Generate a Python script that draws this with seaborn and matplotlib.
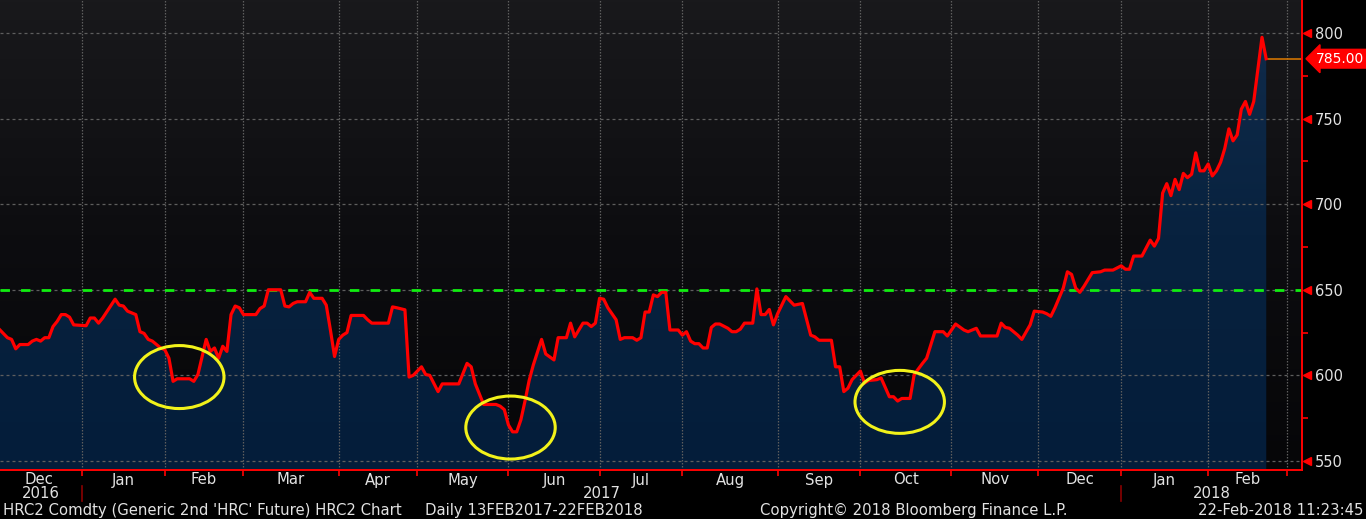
import numpy as np
import pandas as pd
import matplotlib
matplotlib.use("Agg")
import matplotlib.pyplot as plt
import matplotlib.transforms as mtrans
from matplotlib.patches import Ellipse
from matplotlib.lines import Line2D
from matplotlib.colors import LinearSegmentedColormap
import seaborn as sns

# ---------------- data ----------------
dates = [
    "2016-12-02", "2016-12-06", "2016-12-07", "2016-12-08", "2016-12-09", "2016-12-13",
    "2016-12-14", "2016-12-15", "2016-12-16", "2016-12-19", "2016-12-20", "2016-12-21",
    "2016-12-22", "2016-12-23", "2016-12-27", "2016-12-28", "2016-12-29",
    "2017-01-04", "2017-01-05", "2017-01-06", "2017-01-09", "2017-01-10", "2017-01-13",
    "2017-01-17", "2017-01-18", "2017-01-19", "2017-01-23", "2017-01-24", "2017-01-25",
    "2017-01-26", "2017-01-27", "2017-01-31",
    "2017-02-01", "2017-02-02", "2017-02-03", "2017-02-06", "2017-02-09", "2017-02-10",
    "2017-02-13", "2017-02-15", "2017-02-16", "2017-02-17", "2017-02-21", "2017-02-22",
    "2017-02-23", "2017-02-24", "2017-02-27", "2017-02-28",
    "2017-03-01", "2017-03-06", "2017-03-07", "2017-03-08", "2017-03-09", "2017-03-14",
    "2017-03-15", "2017-03-16", "2017-03-17", "2017-03-20", "2017-03-22", "2017-03-23",
    "2017-03-24", "2017-03-28", "2017-03-29", "2017-03-30", "2017-03-31",
    "2017-04-03", "2017-04-04", "2017-04-05", "2017-04-06", "2017-04-11", "2017-04-12",
    "2017-04-13", "2017-04-20", "2017-04-21", "2017-04-24", "2017-04-26", "2017-04-27",
    "2017-04-28",
    "2017-05-02", "2017-05-03", "2017-05-04", "2017-05-08", "2017-05-09", "2017-05-15",
    "2017-05-17", "2017-05-18", "2017-05-19", "2017-05-23", "2017-05-26", "2017-05-30",
    "2017-05-31",
    "2017-06-01", "2017-06-02", "2017-06-05", "2017-06-06", "2017-06-07", "2017-06-08",
    "2017-06-09", "2017-06-13", "2017-06-14", "2017-06-16", "2017-06-19", "2017-06-21",
    "2017-06-22", "2017-06-23", "2017-06-26", "2017-06-27", "2017-06-28", "2017-06-29",
    "2017-06-30",
    "2017-07-03", "2017-07-05", "2017-07-06", "2017-07-10", "2017-07-11", "2017-07-12",
    "2017-07-14", "2017-07-17", "2017-07-18", "2017-07-19", "2017-07-20", "2017-07-21",
    "2017-07-24", "2017-07-25", "2017-07-26", "2017-07-27", "2017-07-31",
    "2017-08-01", "2017-08-02", "2017-08-03", "2017-08-04", "2017-08-07", "2017-08-08",
    "2017-08-09", "2017-08-10", "2017-08-11", "2017-08-14", "2017-08-16", "2017-08-17",
    "2017-08-18", "2017-08-21", "2017-08-22", "2017-08-24", "2017-08-25", "2017-08-28",
    "2017-08-29", "2017-08-30", "2017-08-31",
    "2017-09-01", "2017-09-06", "2017-09-08", "2017-09-12", "2017-09-14", "2017-09-15",
    "2017-09-18", "2017-09-21", "2017-09-22", "2017-09-25", "2017-09-26", "2017-09-27",
    "2017-09-28",
    "2017-10-02", "2017-10-03", "2017-10-04", "2017-10-06", "2017-10-09", "2017-10-11",
    "2017-10-12", "2017-10-13", "2017-10-16", "2017-10-18", "2017-10-19", "2017-10-23",
    "2017-10-24", "2017-10-26", "2017-10-30", "2017-10-31",
    "2017-11-02", "2017-11-06", "2017-11-07", "2017-11-09", "2017-11-10", "2017-11-16",
    "2017-11-17", "2017-11-20", "2017-11-21", "2017-11-24", "2017-11-27", "2017-11-29",
    "2017-11-30",
    "2017-12-04", "2017-12-05", "2017-12-06", "2017-12-07", "2017-12-11", "2017-12-12",
    "2017-12-13", "2017-12-14", "2017-12-15", "2017-12-18", "2017-12-20", "2017-12-22",
    "2017-12-26", "2017-12-28",
    "2018-01-02", "2018-01-03", "2018-01-04", "2018-01-05", "2018-01-09", "2018-01-11",
    "2018-01-12", "2018-01-16", "2018-01-17", "2018-01-18", "2018-01-19", "2018-01-22",
    "2018-01-23", "2018-01-24", "2018-01-25", "2018-01-26", "2018-01-29", "2018-01-30",
    "2018-01-31",
    "2018-02-01", "2018-02-02", "2018-02-05", "2018-02-06", "2018-02-07", "2018-02-08",
    "2018-02-09", "2018-02-12", "2018-02-13", "2018-02-14", "2018-02-15", "2018-02-16",
    "2018-02-20", "2018-02-21", "2018-02-22",
]
prices = [
    627, 622, 621, 615.5, 618, 618,
    620, 621, 620, 622, 622, 628.5,
    631.5, 635.5, 635.5, 634, 629.5,
    629, 633.5, 633.5, 630.5, 633.5, 644.5,
    641, 640.5, 637.5, 635.5, 625.5, 624.5,
    621, 620, 616,
    615, 610, 596.5, 598, 598, 596.5,
    600.5, 621, 614, 616, 610, 617,
    614, 635.5, 640.5, 639.5,
    635.5, 635.5, 639, 640.5, 650, 650,
    640.5, 640, 642, 643, 643, 648.5,
    645, 645, 641, 626.5, 611,
    621, 623.5, 625, 635, 635, 632.5,
    630.5, 630.5, 640, 639.5, 638.3, 599,
    600,
    605, 600.5, 600, 590.5, 595, 595,
    607, 605, 595, 583, 583, 582,
    580,
    571, 567, 567, 574, 585, 597,
    606, 621, 612.5, 609, 622, 622,
    630.5, 622.5, 626.5, 630.5, 630.5, 628.5,
    630.5,
    645, 644.5, 639.5, 632.5, 621, 622,
    622, 620.5, 622, 637, 637, 647,
    646, 648.5, 648.5, 626.5, 626.5,
    623.5, 625.5, 620, 618.5, 618.5, 616,
    616, 628, 630, 630, 627.5, 625.5,
    625.5, 627, 630.5, 630.5, 650.5, 635.5,
    635.5, 638.5, 629.5,
    636, 646, 641, 642, 623.5, 622.5,
    620.5, 620.5, 605, 605, 590.5, 592.5,
    597.5,
    602.5, 595.5, 597, 597.5, 598.5, 587.5,
    587.5, 585, 586.5, 586.5, 600.5, 607,
    610, 625.5, 625.5, 623,
    630, 626.5, 625.5, 627.5, 623, 623,
    630.5, 628, 627.5, 623.5, 621, 629.5,
    637.5,
    637, 636, 634.5, 639.5, 651, 660.5,
    659, 651, 648.5, 652, 660, 660.5,
    661.5, 661.5,
    664, 662, 662, 669.7, 669.7, 679,
    675.5, 680, 706.5, 712, 705, 714.5,
    708.5, 718, 715.5, 717.5, 730, 719.5,
    719.5,
    723.5, 716.5, 719.5, 724.5, 732.5, 744,
    737, 740.5, 755.5, 760, 752.5, 760,
    779, 797.5, 785,
]
holidays = ["2016-12-26", "2017-01-02", "2017-01-16", "2017-02-20", "2017-04-14",
            "2017-05-29", "2017-07-04", "2017-09-04", "2017-11-23", "2017-12-25",
            "2018-01-01", "2018-01-15", "2018-02-19"]
month_starts = ["2016-12-01", "2017-01-01", "2017-02-01", "2017-03-01", "2017-04-01",
                "2017-05-01", "2017-06-01", "2017-07-01", "2017-08-01", "2017-09-01",
                "2017-10-01", "2017-11-01", "2017-12-01", "2018-01-01", "2018-02-01",
                "2018-03-01"]
month_labels = ["Dec", "Jan", "Feb", "Mar", "Apr", "May", "Jun", "Jul", "Aug", "Sep",
                "Oct", "Nov", "Dec", "Jan", "Feb"]
year_starts = ["2017-01-01", "2018-01-01"]
year_labels = ["2016", "2017", "2018"]
y_ticks = [550, 600, 650, 700, 750, 800]
y_minor = [575, 625, 675, 725, 775]
resistance = 650
circle_dates = ["2017-02-06", "2017-06-01", "2017-10-13"]
circle_values = [599, 569.5, 584.5]
footer_left = "HRC2 Comdty (Generic 2nd 'HRC' Future) HRC2 Chart"
footer_range = "Daily 13FEB2017-22FEB2018"
footer_copy = "Copyright\u00a9 2018 Bloomberg Finance L.P."
footer_time = "22-Feb-2018 11:23:45"

# ---------------- helpers ----------------
BASE = "2016-11-01"
def tpos(d):
    return np.busday_count(BASE, np.array(d, dtype="datetime64[D]"), holidays=holidays).astype(float)

df = pd.DataFrame({"t": tpos(dates), "price": prices})
mpos = tpos(month_starts)
ypos = tpos(year_starts)

W, H = 1366, 519
fig = plt.figure(figsize=(W / 100, H / 100), dpi=100, facecolor="black")
ax = fig.add_axes([0, 49 / H, 1302 / W, 470 / H])
ax.set_facecolor("#0c0c0e")

x0 = mpos[0] + 1.2
x1 = mpos[-1] + 3.66
y0, y1 = 544.7, 819.3

RED = "#ff0000"
TXT = "#e2e2e2"
plt.rcParams["font.family"] = ["DejaVu Sans"]

# background gradient
bg_cmap = LinearSegmentedColormap.from_list("bg", ["#060608", "#0d0d10", "#19191c"])
grad = np.repeat(np.linspace(0, 1, 512).reshape(-1, 1), 4, axis=1)
ax.imshow(grad, extent=[x0 - 2, x1 + 2, y0, y1], origin="lower", aspect="auto",
          cmap=bg_cmap, zorder=0, interpolation="nearest")

# area fill: solid underlay plus gradient clipped under the series
ax.fill_between(df["t"], df["price"], y0 - 5, facecolor="#06203d", edgecolor="none", zorder=0.8)
poly = ax.fill_between(df["t"], df["price"], y0 - 5, facecolor="none", edgecolor="none")
fill_cmap = LinearSegmentedColormap.from_list("fill", ["#041d3a", "#08223f", "#112c4c"])
im = ax.imshow(grad, extent=[x0 - 2, x1 + 2, y0, y1], origin="lower", aspect="auto",
               cmap=fill_cmap, zorder=1, interpolation="nearest")
im.set_clip_path(poly.get_paths()[0], transform=ax.transData)

# grid
for yv in y_ticks:
    ax.axhline(yv, color="#5e5e5e", lw=0.9, ls=(0, (2.4, 2.4)), zorder=1.5)
for xv in mpos[1:]:
    ax.axvline(xv, color="#5e5e5e", lw=0.9, ls=(0, (1.2, 1.2)), zorder=1.5)

# resistance line
ax.axhline(resistance, color="#10ee10", lw=2.0, ls=(0, (3.4, 4.0)), zorder=2.2)

# series
sns.lineplot(data=df, x="t", y="price", ax=ax, color=RED, linewidth=2.3, zorder=3)

# last value guide
ax.plot([df["t"].iloc[-1], x1], [prices[-1], prices[-1]], color="#e07b00", lw=1.1, zorder=2.5)

# circles
for d, v in zip(circle_dates, circle_values):
    ax.add_patch(Ellipse((tpos(d) + 0.5, v), width=21.6, height=36.8, fill=False,
                         edgecolor="#f2f21a", lw=2.2, zorder=4))

ax.set_xlabel("")
ax.set_ylabel("")

# spines
for s in ["top", "left"]:
    ax.spines[s].set_visible(False)
for s in ["bottom", "right"]:
    ax.spines[s].set_color(RED)
    ax.spines[s].set_linewidth(1.4)
    ax.spines[s].set_zorder(5)

# ticks
ax.set_xticks(mpos)
ax.set_xticklabels([])
ax.tick_params(axis="x", length=4, width=1.2, color=RED, direction="out")
ax.yaxis.tick_right()
ax.set_yticks(y_ticks)
ax.set_yticklabels([str(v) for v in y_ticks])
ax.set_yticks(y_minor, minor=True)
ax.tick_params(axis="y", which="major", length=0, pad=9, labelsize=10.5, labelcolor=TXT)
ax.tick_params(axis="y", which="minor", length=4, width=1.2, color=RED)
ax.tick_params(axis="y", which="both", left=False, right=True)

# limits last (set_ticks may widen the view)
ax.set_xlim(x0, x1)
ax.set_ylim(y0, y1)

blend = mtrans.blended_transform_factory(ax.transAxes, ax.transData)
ax.plot([1 + 5 / 1302] * len(y_ticks), y_ticks, transform=blend, ls="none",
        marker="<", ms=6.2, color=RED, clip_on=False, zorder=6)

# last value label
ax.text(1 + 14 / 1302, prices[-1], f"{prices[-1]:.2f}", transform=blend, ha="left",
        va="center", color="white", fontsize=10, zorder=7, clip_on=False,
        bbox=dict(boxstyle="larrow,pad=0.17", fc=RED, ec=RED))

# month and year labels
FS = 10.7
xfig = mtrans.blended_transform_factory(ax.transData, fig.transFigure)
for i, lab in enumerate(month_labels):
    fig.text((mpos[i] + mpos[i + 1]) / 2, 1 - 480 / H, lab, transform=xfig,
             ha="center", va="center", color=TXT, fontsize=FS)
year_edges = [x0] + list(ypos) + [x1]
for i, lab in enumerate(year_labels):
    fig.text((year_edges[i] + year_edges[i + 1]) / 2, 1 - 494 / H, lab, transform=xfig,
             ha="center", va="center", color=TXT, fontsize=FS)
for xv in ypos:
    fig.add_artist(Line2D([xv, xv], [1 - 486 / H, 1 - 501 / H], transform=xfig,
                          color="#8a0000", lw=1.2))

# footer
fy = 1 - 510.5 / H
fig.text(3 / W, fy, footer_left, ha="left", va="center", color=TXT, fontsize=FS)
fig.text(425 / W, fy, footer_range, ha="left", va="center", color=TXT, fontsize=FS)
fig.text(760 / W, fy, footer_copy, ha="left", va="center", color=TXT, fontsize=FS)
fig.text(1363 / W, fy, footer_time, ha="right", va="center", color=TXT, fontsize=FS)

fig.savefig("out.png", dpi=100, facecolor="black")
